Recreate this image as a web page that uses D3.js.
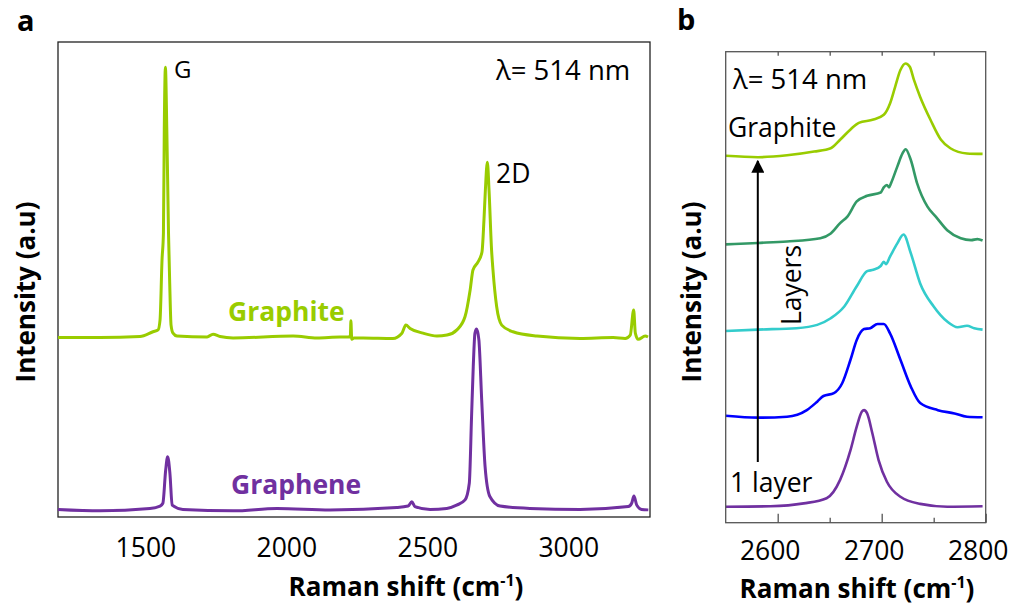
<!DOCTYPE html>
<html>
<head>
<meta charset="utf-8">
<script src="https://cdn.jsdelivr.net/npm/d3@7"></script>
<style>
  body { margin: 0; background: #fff; }
  svg { display: block; font-family: "Open Sans", sans-serif; }
</style>
</head>
<body>
<svg id="chart" width="1016" height="609"></svg>
<script>
// ---- data: [Raman shift (cm-1), intensity (a.u.)] ----
var graphiteWide = [
  [1190,37.8],[1339,37.8],[1481,38.0],[1527,39.0],[1545,39.4],[1552,41.5],[1559,54.1],
  [1564,59.8],[1567,81.5],[1571,94.7],[1576,81.5],[1582,59.8],[1586,49.9],[1591,40.4],
  [1598,38.7],[1612,38.1],[1719,37.9],[1740,38.5],[1765,38.0],[1811,37.7],[2024,38.1],
  [2109,37.7],[2190,37.9],[2219,37.9],[2227,38.0],[2229,41.3],[2232,37.4],[2240,37.7],
  [2272,37.7],[2378,37.6],[2410,38.7],[2424,40.4],[2439,39.7],[2485,38.7],[2534,38.1],
  [2570,38.3],[2605,39.4],[2634,42.2],[2652,47.8],[2662,52.0],[2680,53.7],[2694,55.8],
  [2701,62.5],[2706,68.8],[2713,74.7],[2719,68.8],[2728,56.2],[2733,52.0],[2746,44.3],
  [2764,40.4],[2804,39.0],[2889,38.1],[3042,37.6],[3159,37.8],[3202,37.6],[3220,38.3],
  [3232,43.6],[3238,38.7],[3248,37.4],[3273,38.1],[3283,37.9]
];
var grapheneWide = [
  [1190,1.6],[1339,1.3],[1516,1.8],[1552,2.3],[1562,2.9],[1572,9.9],[1579,12.7],
  [1587,9.2],[1595,2.5],[1633,1.6],[1811,1.3],[1967,1.8],[2155,1.5],[2392,2.0],
  [2432,2.3],[2445,3.2],[2456,2.2],[2510,1.6],[2569,1.8],[2604,2.5],[2634,3.6],
  [2649,7.1],[2657,21.1],[2663,31.6],[2669,38.7],[2675,39.6],[2683,37.3],[2693,24.6],
  [2705,10.6],[2722,4.3],[2758,2.3],[2864,1.8],[3042,1.6],[3213,2.2],[3225,2.9],
  [3233,4.4],[3243,2.5],[3260,1.6],[3284,1.5]
];

// panel b: 2D band, 1 layer (bottom) up to graphite (top)
var layer1 = [
  [2550,3.4],[2593,3.5],[2625,4.1],[2647,5.2],[2660,9.1],[2670,15.4],[2676,20.4],
  [2681,23.6],[2683,23.9],[2686,23.2],[2691,19.0],[2697,13.3],[2705,8.7],[2718,5.5],
  [2737,4.0],[2763,3.4],[2797,3.5]
];
var layer2 = [
  [2550,22.7],[2581,22.3],[2609,22.5],[2628,23.9],[2638,25.7],[2644,26.9],[2654,27.5],
  [2662,29.6],[2670,34.6],[2676,38.8],[2683,41.1],[2689,41.3],[2696,42.2],[2702,42.2],
  [2708,40.2],[2718,34.6],[2728,28.9],[2737,25.4],[2754,23.9],[2770,23.2],[2782,22.5],
  [2797,22.4]
];
var layer3 = [
  [2550,40.7],[2581,41.0],[2618,41.3],[2638,42.0],[2651,43.4],[2664,45.9],[2676,50.2],
  [2686,53.4],[2692,53.7],[2699,54.5],[2702,55.4],[2704,54.9],[2708,56.5],[2715,59.3],
  [2721,61.2],[2728,57.2],[2737,50.8],[2750,45.9],[2763,42.7],[2773,41.5],[2782,41.8],
  [2789,41.3],[2797,41.0]
];
var layer4 = [
  [2550,59.1],[2581,59.4],[2609,59.7],[2641,60.4],[2651,61.4],[2660,63.6],[2667,65.0],
  [2676,68.2],[2686,69.4],[2699,70.1],[2702,71.2],[2705,71.7],[2707,71.2],[2709,72.1],
  [2715,75.6],[2720,78.4],[2723,79.3],[2728,77.0],[2734,72.1],[2744,67.1],[2752,65.0],
  [2763,62.1],[2776,60.4],[2786,60.0],[2792,60.2],[2797,59.9]
];
var graphiteNarrow = [
  [2550,77.9],[2581,77.6],[2609,78.0],[2635,78.8],[2651,79.5],[2660,81.3],[2670,83.5],
  [2678,84.9],[2692,85.6],[2702,86.6],[2708,89.0],[2713,92.6],[2718,96.1],[2723,97.5],
  [2727,96.8],[2731,94.0],[2737,90.4],[2747,85.5],[2757,81.3],[2766,79.5],[2782,78.4],
  [2797,78.3]
];

var seriesA = [
  {name: "Graphite", values: graphiteWide, color: "#99cc00"},
  {name: "Graphene", values: grapheneWide, color: "#7030a0"}
];
var seriesB = [
  {values: layer1, color: "#7030a0"},
  {values: layer2, color: "#0000ff"},
  {values: layer3, color: "#33cccc"},
  {values: layer4, color: "#339966"},
  {values: graphiteNarrow, color: "#99cc00"}
];

var ticksA = [1500, 2000, 2500, 3000];
var ticksBMajor = [2600, 2700, 2800];
var ticksBMinor = [2650, 2750];

var svg = d3.select("#chart");

// ------------------------------------------------------------------
// panel a
// ------------------------------------------------------------------
var xA = d3.scaleLinear().domain([1190, 3290]).range([58, 650]);
var yA = d3.scaleLinear().domain([0, 100]).range([517, 42]);

var gA = svg.append("g");

gA.append("rect")
  .attr("x", 58).attr("y", 42)
  .attr("width", 592).attr("height", 475)
  .attr("fill", "none").attr("stroke", "#222").attr("stroke-width", 1.3);

var lineA = d3.line()
  .x(function(d) { return xA(d[0]); })
  .y(function(d) { return yA(d[1]); })
  .curve(d3.curveMonotoneX);

gA.selectAll("path.spec")
  .data(seriesA)
  .enter().append("path")
  .attr("class", "spec")
  .attr("d", function(d) { return lineA(d.values); })
  .attr("fill", "none")
  .attr("stroke", function(d) { return d.color; })
  .attr("stroke-width", 3)
  .attr("stroke-linejoin", "round");

var axA = gA.append("g")
  .attr("transform", "translate(0,517)")
  .call(d3.axisBottom(xA).tickValues(ticksA).tickSize(0).tickPadding(0).tickFormat(d3.format("d")));
axA.select(".domain").remove();
axA.selectAll("text")
  .attr("y", 40).attr("dy", 0)
  .attr("fill", "#000")
  .style("font-family", "'Open Sans', sans-serif")
  .style("font-size", "26.5px");

gA.append("text").attr("x", 17).attr("y", 31)
  .style("font-size", "29px").style("font-weight", "bold").text("a");

gA.append("text").attr("x", 174).attr("y", 78)
  .style("font-size", "24px").text("G");
gA.append("text").attr("x", 496).attr("y", 183)
  .style("font-size", "26.5px").text("2D");
gA.append("text").attr("x", 496).attr("y", 80)
  .style("font-size", "27.5px").text("λ= 514 nm");

gA.append("text").attr("x", 228).attr("y", 321)
  .attr("fill", "#99cc00")
  .style("font-size", "26.5px").style("font-weight", "bold").text("Graphite");
gA.append("text").attr("x", 231).attr("y", 494)
  .attr("fill", "#7030a0")
  .style("font-size", "26.5px").style("font-weight", "bold").text("Graphene");

gA.append("text")
  .attr("transform", "translate(35,292) rotate(-90)")
  .attr("text-anchor", "middle")
  .style("font-size", "26px").style("font-weight", "bold")
  .text("Intensity (a.u)");

var titleA = gA.append("text")
  .attr("x", 406).attr("y", 596)
  .attr("text-anchor", "middle")
  .style("font-size", "26px").style("font-weight", "bold");
titleA.append("tspan").text("Raman shift (cm");
titleA.append("tspan").attr("dy", -10).style("font-size", "16px").text("-1");
titleA.append("tspan").attr("dy", 10).text(")");

// ------------------------------------------------------------------
// panel b
// ------------------------------------------------------------------
var xB = d3.scaleLinear().domain([2550, 2800]).range([725.7, 985.7]);
var yB = d3.scaleLinear().domain([0, 100]).range([522.7, 51.7]);

var gB = svg.append("g");

var lineB = d3.line()
  .x(function(d) { return xB(d[0]); })
  .y(function(d) { return yB(d[1]); })
  .curve(d3.curveMonotoneX);

gB.selectAll("path.spec")
  .data(seriesB)
  .enter().append("path")
  .attr("class", "spec")
  .attr("d", function(d) { return lineB(d.values); })
  .attr("fill", "none")
  .attr("stroke", function(d) { return d.color; })
  .attr("stroke-width", 2.6)
  .attr("stroke-linejoin", "round");

gB.append("rect")
  .attr("x", 725.7).attr("y", 51.7)
  .attr("width", 260).attr("height", 471)
  .attr("fill", "none").attr("stroke", "#555").attr("stroke-width", 1.3);

// bottom ticks point inward
var axB = gB.append("g")
  .attr("transform", "translate(0,522.7)")
  .call(d3.axisBottom(xB).tickValues(ticksBMajor).tickSize(-9).tickPadding(0).tickFormat(d3.format("d")));
axB.select(".domain").remove();
axB.selectAll("line").attr("stroke", "#555").attr("stroke-width", 1.3);
axB.selectAll("text")
  .attr("y", 37).attr("dy", 0).attr("dx", -8)
  .attr("fill", "#000")
  .style("font-family", "'Open Sans', sans-serif")
  .style("font-size", "26.5px");

var axBMinor = gB.append("g")
  .attr("transform", "translate(0,522.7)")
  .call(d3.axisBottom(xB).tickValues(ticksBMinor).tickSize(-5).tickFormat(""));
axBMinor.select(".domain").remove();
axBMinor.selectAll("line").attr("stroke", "#555").attr("stroke-width", 1.3);

var axBTop = gB.append("g")
  .attr("transform", "translate(0,51.7)")
  .call(d3.axisTop(xB).tickValues(ticksBMajor.concat(ticksBMinor).filter(function(t) { return t < 2800; }))
    .tickSize(-4).tickFormat(""));
axBTop.select(".domain").remove();
axBTop.selectAll("line").attr("stroke", "#555").attr("stroke-width", 1.3);

gB.append("text").attr("x", 677).attr("y", 30)
  .style("font-size", "29px").style("font-weight", "bold").text("b");

gB.append("text").attr("x", 733).attr("y", 89)
  .style("font-size", "27.5px").text("λ= 514 nm");
gB.append("text").attr("x", 728).attr("y", 137)
  .style("font-size", "26.5px").text("Graphite");
gB.append("text").attr("x", 730).attr("y", 492)
  .style("font-size", "26.5px").text("1 layer");
gB.append("text")
  .attr("transform", "translate(801,285) rotate(-90)")
  .attr("text-anchor", "middle")
  .style("font-size", "26.5px").text("Layers");

// layers arrow
svg.append("defs").append("marker")
  .attr("id", "arrow")
  .attr("viewBox", "0 -5 10 10")
  .attr("refX", 9).attr("refY", 0)
  .attr("markerWidth", 13).attr("markerHeight", 13)
  .attr("markerUnits", "userSpaceOnUse")
  .attr("orient", "auto")
  .append("path").attr("d", "M0,-5L10,0L0,5Z").attr("fill", "#000");
gB.append("line")
  .attr("x1", 757.8).attr("y1", 462)
  .attr("x2", 757.8).attr("y2", 161)
  .attr("stroke", "#000").attr("stroke-width", 2)
  .attr("marker-end", "url(#arrow)");

gB.append("text")
  .attr("transform", "translate(701,292) rotate(-90)")
  .attr("text-anchor", "middle")
  .style("font-size", "26px").style("font-weight", "bold")
  .text("Intensity (a.u)");

var titleB = gB.append("text")
  .attr("x", 857).attr("y", 598)
  .attr("text-anchor", "middle")
  .style("font-size", "26px").style("font-weight", "bold");
titleB.append("tspan").text("Raman shift (cm");
titleB.append("tspan").attr("dy", -10).style("font-size", "16px").text("-1");
titleB.append("tspan").attr("dy", 10).text(")");
</script>
</body>
</html>
